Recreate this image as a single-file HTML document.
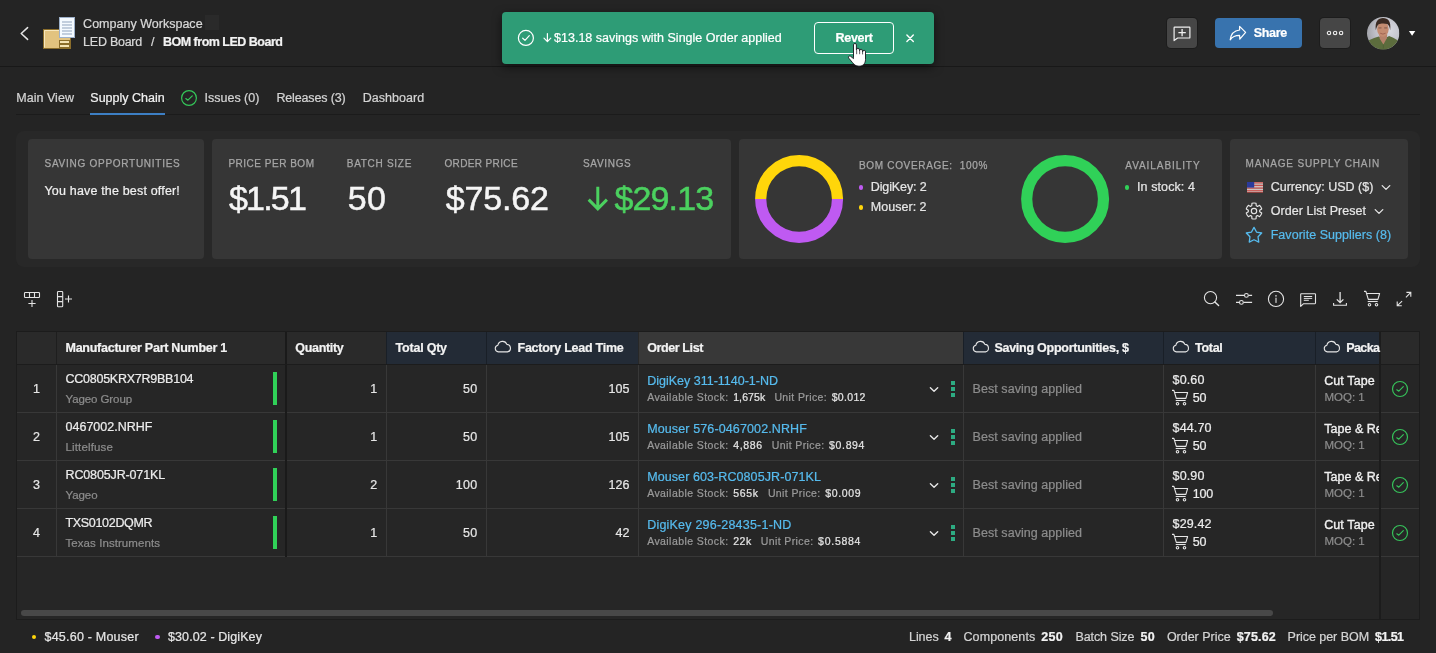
<!DOCTYPE html>
<html lang="en"><head><meta charset="utf-8"><title>BOM from LED Board - Supply Chain</title>
<style>
html,body{margin:0;padding:0;}
body{width:1436px;height:653px;overflow:hidden;position:relative;background:#242424;font-family:"Liberation Sans",sans-serif;color:#e6e6e6;}
.t{position:absolute;white-space:pre;line-height:1;font-weight:400;-webkit-text-stroke:0.22px;}
.b{position:absolute;box-sizing:border-box;}
.i{position:absolute;display:block;overflow:visible;}
#root{position:absolute;left:0;top:0;width:1436px;height:653px;will-change:transform;}
</style></head><body><div id="root">
<header>
<div class="b" style="left:0px;top:66px;width:1436px;height:1px;background:#181818;"></div>
<span class="t" style="top:18px;font-size:12.5px;letter-spacing:0.014px;color:#d9d9d9;left:83.10px;">Company Workspace</span>
<div class="b" style="left:205px;top:15px;width:14px;height:15px;background:#2a2a2a;"></div>
<span class="t" style="top:36px;font-size:12.5px;letter-spacing:-0.250px;color:#d9d9d9;left:83.10px;">LED Board</span>
<span class="t" style="top:36px;font-size:12.5px;letter-spacing:0.000px;color:#d9d9d9;left:151.00px;">/</span>
<span class="t" style="top:36px;font-size:12.5px;letter-spacing:-0.504px;color:#f2f2f2;left:163.00px;font-weight:700;">BOM from LED Board</span>
<div class="b" style="left:1167px;top:18px;width:30px;height:30px;background:#464646;border-radius:4px;box-shadow:0 0 0 1px #1c1c1c;"></div>
<div class="b" style="left:1215px;top:18px;width:87px;height:30px;background:#3873ae;border-radius:4px;"></div>
<span class="t" style="top:27px;font-size:12.5px;letter-spacing:-0.288px;color:#ffffff;left:1253.70px;font-weight:700;">Share</span>
<div class="b" style="left:1320px;top:18px;width:30px;height:30px;background:#464646;border-radius:4px;box-shadow:0 0 0 1px #1c1c1c;"></div>
<svg class="i" style="left:18px;top:25px;" width="12" height="17" viewBox="0 0 12 17" fill="none"><path d="M9.6 2.6 L3.2 8.5 L9.6 14.4" stroke="#e6e6e6" stroke-width="1.5" stroke-linecap="round" stroke-linejoin="round"/></svg>
<svg class="i" style="left:42px;top:16px;" width="34" height="34" viewBox="0 0 34 34" fill="none"><rect x="1.5" y="13.5" width="27" height="19" fill="#e2c37f" stroke="#8a6d2b" stroke-width="1"/><path d="M2.5 31.5 V14.5 H27.5" stroke="#f7e7bd" stroke-width="1" fill="none"/><rect x="17.5" y="24.5" width="10" height="3" fill="#f4e3b4" stroke="#8a6d2b" stroke-width="1"/><rect x="17.5" y="28.5" width="10" height="3" fill="#f4e3b4" stroke="#8a6d2b" stroke-width="1"/><rect x="17.5" y="1.5" width="15" height="20" fill="#f4faff" stroke="#9db0c9" stroke-width="1"/><path d="M20 6H30M20 9H30M20 12H30M20 15H30M20 18H30" stroke="#8fa3bd" stroke-width="1"/></svg>
<svg class="i" style="left:1172px;top:24px;" width="20" height="20" viewBox="0 0 20 20" fill="none"><path d="M2.7 3.2 H17.3 Q17.9 3.2 17.9 3.8 V13.4 Q17.9 14 17.3 14 H5.6 L2.1 16.6 V3.8 Q2.1 3.2 2.7 3.2 Z" stroke="#f0f0f0" stroke-width="1.2" stroke-linejoin="round"/><path d="M6.4 8.6 H13.8 M10.1 5 V12.2" stroke="#f0f0f0" stroke-width="1.3"/></svg>
<svg class="i" style="left:1229px;top:25px;" width="18" height="16" viewBox="0 0 18 16" fill="none"><path d="M10.6 1.4 L16.6 7.4 L10.8 14.2 L10.6 10.4 C6.4 10.4 3.2 11.8 1.2 14.8 C1.8 9.6 5 5.6 10.6 5.0 Z" stroke="#ffffff" stroke-width="1.2" stroke-linejoin="round"/></svg>
<svg class="i" style="left:1325px;top:29px;" width="20" height="8" viewBox="0 0 20 8" fill="none"><circle cx="4" cy="4" r="1.7" stroke="#f0f0f0" stroke-width="1.1"/><circle cx="10.1" cy="4" r="1.7" stroke="#f0f0f0" stroke-width="1.1"/><circle cx="16.1" cy="4" r="1.7" stroke="#f0f0f0" stroke-width="1.1"/></svg>
<svg class="i" style="left:1366.8px;top:16.7px;" width="32.4" height="32.4" viewBox="0 0 32 32" fill="none"><defs><clipPath id="av"><circle cx="16" cy="16" r="16"/></clipPath><radialGradient id="avbg" cx="0.68" cy="0.42" r="0.7"><stop offset="0" stop-color="#d9dae2"/><stop offset="0.6" stop-color="#bfc0c8"/><stop offset="1" stop-color="#a2a3a9"/></radialGradient><filter id="avbl" x="-10%" y="-10%" width="120%" height="120%"><feGaussianBlur stdDeviation="0.45"/></filter></defs><g clip-path="url(#av)"><rect width="32" height="32" fill="url(#avbg)"/><g filter="url(#avbl)"><path d="M-2 27 L2.5 22.8 Q7 20.6 11.6 19.3 L16 22 L21.8 18.8 Q26 20.4 29.8 22.8 L34 27 V34 H-2 Z" fill="#5b6c3d"/><path d="M12 17 H20 L19.6 21 L16.2 27.2 L12.6 21.5 Z" fill="#b6816a"/><ellipse cx="15.7" cy="12" rx="5.7" ry="7.6" fill="#c48b70"/><path d="M8.7 13 C7.6 4.2 11.2 1.1 15.8 1.1 C20.9 1.1 24 4.6 22.9 13 C22.4 10 21.6 8 20 7 C17.4 6 13.4 6.2 11.6 7.2 C10.2 8.4 9.4 10.4 8.7 13 Z" fill="#3b2b24"/><path d="M11.3 10.8 H14.3 M17 10.8 H20" stroke="#7a5244" stroke-width="0.9"/><path d="M13 16 Q15.7 17.8 18.4 16" stroke="#9a5b4c" stroke-width="0.8" fill="none"/><path d="M16.2 27.2 V31" stroke="#4a5930" stroke-width="0.6"/></g></g></svg>
<svg class="i" style="left:1408px;top:30px;" width="8" height="7" viewBox="0 0 8 7" fill="none"><path d="M0.9 1.1 H7.3 L4.1 5.7 Z" fill="#ffffff"/></svg>
</header>
<nav>
<div class="b" style="left:16px;top:114px;width:1404px;height:1px;background:#1b1b1b;"></div>
<div class="b" style="left:90px;top:113px;width:75px;height:2px;background:#3d7fc4;"></div>
<span class="t" style="top:92px;font-size:12.5px;letter-spacing:0.041px;color:#d4d4d4;left:16.20px;">Main View</span>
<span class="t" style="top:92px;font-size:12.5px;letter-spacing:0.004px;color:#f2f2f2;left:90.30px;">Supply Chain</span>
<span class="t" style="top:92px;font-size:12.5px;letter-spacing:0.002px;color:#d4d4d4;left:204.50px;">Issues (0)</span>
<span class="t" style="top:92px;font-size:12.5px;letter-spacing:-0.139px;color:#d4d4d4;left:276.40px;">Releases (3)</span>
<span class="t" style="top:92px;font-size:12.5px;letter-spacing:0.028px;color:#d4d4d4;left:362.80px;">Dashboard</span>
<svg class="i" style="left:180px;top:89px;" width="18" height="18" viewBox="0 0 18 18" fill="none"><circle cx="9" cy="9" r="7.4" stroke="#34c759" stroke-width="1.2"/><path d="M5.8 9.6 L7.9 11.2 L12.3 6.8" stroke="#34c759" stroke-width="1.2" stroke-linecap="round" stroke-linejoin="round"/></svg>
</nav>
<section>
<div class="b" style="left:16px;top:131px;width:1404px;height:136px;background:#282828;border-radius:8px;"></div>
<div class="b" style="left:28px;top:139px;width:176px;height:120px;background:#363636;border-radius:4px;"></div>
<div class="b" style="left:212px;top:139px;width:519px;height:120px;background:#363636;border-radius:4px;"></div>
<div class="b" style="left:739px;top:139px;width:483px;height:120px;background:#363636;border-radius:4px;"></div>
<div class="b" style="left:1230px;top:139px;width:178px;height:120px;background:#363636;border-radius:4px;"></div>
<span class="t" style="top:159px;font-size:10px;letter-spacing:0.734px;color:#a6a6a6;left:44.50px;-webkit-text-stroke:0.25px #a6a6a6;">SAVING OPPORTUNITIES</span>
<span class="t" style="top:185px;font-size:12.5px;letter-spacing:0.173px;color:#f0f0f0;left:44.50px;">You have the best offer!</span>
<span class="t" style="top:159px;font-size:10px;letter-spacing:0.511px;color:#a6a6a6;left:228.40px;-webkit-text-stroke:0.25px #a6a6a6;">PRICE PER BOM</span>
<span class="t" style="top:181px;font-size:34px;letter-spacing:-1.817px;color:#f5f5f5;left:229.00px;-webkit-text-stroke:0.5px #f5f5f5;">$1.51</span>
<span class="t" style="top:159px;font-size:10px;letter-spacing:0.705px;color:#a6a6a6;left:346.80px;-webkit-text-stroke:0.25px #a6a6a6;">BATCH SIZE</span>
<span class="t" style="top:181px;font-size:34px;letter-spacing:0.341px;color:#f5f5f5;left:347.80px;-webkit-text-stroke:0.5px #f5f5f5;">50</span>
<span class="t" style="top:159px;font-size:10px;letter-spacing:0.377px;color:#a6a6a6;left:444.40px;-webkit-text-stroke:0.25px #a6a6a6;">ORDER PRICE</span>
<span class="t" style="top:181px;font-size:34px;letter-spacing:-0.165px;color:#f5f5f5;left:445.80px;-webkit-text-stroke:0.5px #f5f5f5;">$75.62</span>
<span class="t" style="top:159px;font-size:10px;letter-spacing:0.698px;color:#a6a6a6;left:582.90px;-webkit-text-stroke:0.25px #a6a6a6;">SAVINGS</span>
<span class="t" style="top:181px;font-size:34px;letter-spacing:-0.882px;color:#4bd15f;left:614.50px;-webkit-text-stroke:0.5px #4bd15f;">$29.13</span>
<span class="t" style="top:161px;font-size:10px;letter-spacing:0.676px;color:#a6a6a6;left:859.00px;-webkit-text-stroke:0.25px #a6a6a6;">BOM COVERAGE:  100%</span>
<span class="t" style="top:181px;font-size:12.5px;letter-spacing:-0.117px;color:#e6e6e6;left:870.80px;">DigiKey: 2</span>
<span class="t" style="top:201px;font-size:12.5px;letter-spacing:0.025px;color:#e6e6e6;left:870.80px;">Mouser: 2</span>
<span class="t" style="top:161px;font-size:10px;letter-spacing:0.925px;color:#a6a6a6;left:1125.30px;-webkit-text-stroke:0.25px #a6a6a6;">AVAILABILITY</span>
<span class="t" style="top:181px;font-size:12.5px;letter-spacing:0.094px;color:#e6e6e6;left:1137.00px;">In stock: 4</span>
<span class="t" style="top:159px;font-size:10px;letter-spacing:0.839px;color:#a6a6a6;left:1245.50px;-webkit-text-stroke:0.25px #a6a6a6;">MANAGE SUPPLY CHAIN</span>
<span class="t" style="top:181px;font-size:12.5px;letter-spacing:-0.012px;color:#e6e6e6;left:1270.70px;">Currency: USD ($)</span>
<span class="t" style="top:205px;font-size:12.5px;letter-spacing:0.054px;color:#e6e6e6;left:1270.70px;">Order List Preset</span>
<span class="t" style="top:229px;font-size:12.5px;letter-spacing:0.046px;color:#56bbee;left:1270.70px;">Favorite Suppliers (8)</span>
<svg class="i" style="left:586px;top:185px;" width="24" height="27" viewBox="0 0 24 27" fill="none"><path d="M11.8 1.8 V24.2 M2.7 14.6 L11.8 23.8 L20.9 14.6" stroke="#4bd15f" stroke-width="3" stroke-linecap="butt" stroke-linejoin="miter"/></svg>
<svg class="i" style="left:754px;top:154px;" width="90" height="90" viewBox="0 0 90 90" fill="none"><path d="M6.7 45 A38.4 38.4 0 0 1 83.5 45" stroke="#ffd60a" stroke-width="11.2"/><path d="M6.7 45 A38.4 38.4 0 0 0 83.5 45" stroke="#bf5af2" stroke-width="11.2"/></svg>
<svg class="i" style="left:1020px;top:154px;" width="90" height="90" viewBox="0 0 90 90" fill="none"><circle cx="45.1" cy="45" r="38.4" stroke="#30d158" stroke-width="11.2"/></svg>
<div class="b" style="left:858.8px;top:185px;width:4.5px;height:4.5px;background:#bf5af2;border-radius:50%;"></div>
<div class="b" style="left:858.8px;top:205px;width:4.5px;height:4.5px;background:#ffd60a;border-radius:50%;"></div>
<div class="b" style="left:1124.8px;top:185px;width:4.5px;height:4.5px;background:#30d158;border-radius:50%;"></div>
<svg class="i" style="left:1247px;top:181.7px;" width="16" height="10.5" viewBox="0 0 16 10.5" fill="none"><rect x="0" y="0.00" width="16" height="0.81" fill="#e4504a"/><rect x="0" y="0.81" width="16" height="0.81" fill="#f3f3f3"/><rect x="0" y="1.62" width="16" height="0.81" fill="#e4504a"/><rect x="0" y="2.42" width="16" height="0.81" fill="#f3f3f3"/><rect x="0" y="3.23" width="16" height="0.81" fill="#e4504a"/><rect x="0" y="4.04" width="16" height="0.81" fill="#f3f3f3"/><rect x="0" y="4.85" width="16" height="0.81" fill="#e4504a"/><rect x="0" y="5.66" width="16" height="0.81" fill="#f3f3f3"/><rect x="0" y="6.46" width="16" height="0.81" fill="#e4504a"/><rect x="0" y="7.27" width="16" height="0.81" fill="#f3f3f3"/><rect x="0" y="8.08" width="16" height="0.81" fill="#e4504a"/><rect x="0" y="8.89" width="16" height="0.81" fill="#f3f3f3"/><rect x="0" y="9.70" width="16" height="0.81" fill="#e4504a"/><rect x="0" y="0" width="7.2" height="5.6" fill="#2a3a9c"/></svg>
<svg class="i" style="left:1381px;top:183.5px;" width="10" height="7" viewBox="0 0 10 7" fill="none"><path d="M1.2 1.6 L5 5.4 L8.8 1.6" stroke="#e6e6e6" stroke-width="1.3" stroke-linecap="round" stroke-linejoin="round"/></svg>
<svg class="i" style="left:1374.2px;top:207.5px;" width="10" height="7" viewBox="0 0 10 7" fill="none"><path d="M1.2 1.6 L5 5.4 L8.8 1.6" stroke="#e6e6e6" stroke-width="1.3" stroke-linecap="round" stroke-linejoin="round"/></svg>
<svg class="i" style="left:1245px;top:201.9px;" width="18" height="18" viewBox="0 0 18 18" fill="none"><path d="M6.78 3.75 L6.94 1.27 A8.0 8.0 0 0 1 11.06 1.27 L11.22 3.75 A5.7 5.7 0 0 1 12.44 4.45 L14.67 3.35 A8.0 8.0 0 0 1 16.72 6.92 L14.66 8.30 A5.7 5.7 0 0 1 14.66 9.70 L16.72 11.08 A8.0 8.0 0 0 1 14.67 14.65 L12.44 13.55 A5.7 5.7 0 0 1 11.22 14.25 L11.06 16.73 A8.0 8.0 0 0 1 6.94 16.73 L6.78 14.25 A5.7 5.7 0 0 1 5.56 13.55 L3.33 14.65 A8.0 8.0 0 0 1 1.28 11.08 L3.34 9.70 A5.7 5.7 0 0 1 3.34 8.30 L1.28 6.92 A8.0 8.0 0 0 1 3.33 3.35 L5.56 4.45 A5.7 5.7 0 0 1 6.78 3.75 Z" stroke="#e6e6e6" stroke-width="1.15" stroke-linejoin="round"/><circle cx="9" cy="9" r="2.7" stroke="#e6e6e6" stroke-width="1.15"/></svg>
<svg class="i" style="left:1245px;top:226px;" width="18" height="18" viewBox="0 0 18 18" fill="none"><path d="M9.00 1.40 L11.50 6.06 L16.70 7.00 L13.04 10.81 L13.76 16.05 L9.00 13.75 L4.24 16.05 L4.96 10.81 L1.30 7.00 L6.50 6.06 Z" stroke="#56bbee" stroke-width="1.3" stroke-linejoin="round"/></svg>
</section>
<div>
<svg class="i" style="left:22px;top:290px;" width="20" height="20" viewBox="0 0 20 20" fill="none"><rect x="2.5" y="2.5" width="15" height="5" rx="0.8" stroke="#e4e4e4" stroke-width="1.1"/><path d="M7.5 2.5 V7.5 M12.5 2.5 V7.5" stroke="#e4e4e4" stroke-width="1.1"/><path d="M6.4 13.5 H13.6 M10 10 V17" stroke="#e4e4e4" stroke-width="1.1"/></svg>
<svg class="i" style="left:55px;top:289px;" width="20" height="20" viewBox="0 0 20 20" fill="none"><rect x="2.5" y="2.5" width="5.2" height="15.2" rx="0.8" stroke="#e4e4e4" stroke-width="1.1"/><path d="M2.5 7.6 H7.7 M2.5 12.6 H7.7" stroke="#e4e4e4" stroke-width="1.1"/><path d="M10 10 H17 M13.5 6.4 V13.6" stroke="#e4e4e4" stroke-width="1.1"/></svg>
<svg class="i" style="left:1202px;top:289px;" width="18" height="18" viewBox="0 0 18 18" fill="none"><circle cx="8.5" cy="8.6" r="6.1" stroke="#e4e4e4" stroke-width="1.1"/><path d="M12.9 12.9 L16.6 16.5" stroke="#e4e4e4" stroke-width="1.4" stroke-linecap="round"/></svg>
<svg class="i" style="left:1235px;top:291px;" width="18" height="16" viewBox="0 0 18 16" fill="none"><path d="M1 4.4 H9.3 M13.6 4.4 H17.1 M1 11.4 H4.3 M8.6 11.4 H17.1" stroke="#e4e4e4" stroke-width="1.1"/><circle cx="11.4" cy="4.4" r="1.9" stroke="#e4e4e4" stroke-width="1.1"/><circle cx="6.4" cy="11.4" r="1.9" stroke="#e4e4e4" stroke-width="1.1"/></svg>
<svg class="i" style="left:1267px;top:290px;" width="18" height="18" viewBox="0 0 18 18" fill="none"><circle cx="9" cy="8.9" r="7.6" stroke="#e4e4e4" stroke-width="1.1"/><rect x="8.3" y="7.7" width="1.4" height="5.2" fill="#bdbdbd"/><circle cx="9" cy="5.8" r="0.85" fill="#cfcfcf"/></svg>
<svg class="i" style="left:1299px;top:292px;" width="18" height="16" viewBox="0 0 18 16" fill="none"><path d="M2.2 1.7 H15.9 Q16.5 1.7 16.5 2.3 V11.1 Q16.5 11.7 15.9 11.7 H4.6 L1.7 14.4 V2.3 Q1.7 1.7 2.2 1.7 Z" stroke="#e4e4e4" stroke-width="1.1" stroke-linejoin="round"/><path d="M4.8 4.5 H13.2 M4.8 6.4 H13.2 M4.8 8.3 H9.8" stroke="#e4e4e4" stroke-width="1"/></svg>
<svg class="i" style="left:1331px;top:290px;" width="18" height="18" viewBox="0 0 18 18" fill="none"><path d="M9.1 2 V12.4 M5.8 9.4 L9.1 12.7 L12.4 9.4" stroke="#e4e4e4" stroke-width="1.3"/><path d="M2.6 12.9 V15.3 H15.4 V12.9" stroke="#e4e4e4" stroke-width="1.1"/></svg>
<svg class="i" style="left:1363px;top:289px;" width="18" height="18" viewBox="0 0 18 18" fill="none"><path d="M1 2.4 H2.9 L5.3 10.4 H14.9 L16.6 4.5 H3.6" stroke="#e4e4e4" stroke-width="1.1" stroke-linejoin="round"/><path d="M4.7 12.5 H14.7" stroke="#e4e4e4" stroke-width="1.1"/><circle cx="6.5" cy="15.7" r="1.25" stroke="#e4e4e4" stroke-width="1.1"/><circle cx="13.5" cy="15.7" r="1.25" stroke="#e4e4e4" stroke-width="1.1"/></svg>
<svg class="i" style="left:1395px;top:290px;" width="18" height="18" viewBox="0 0 18 18" fill="none"><path d="M10.9 7.3 L15.6 2.6 M11.4 2.4 H15.8 V6.8" stroke="#e4e4e4" stroke-width="1.1"/><path d="M7.1 11.1 L2.4 15.6 M2.2 11.4 V15.7 H6.8" stroke="#e4e4e4" stroke-width="1.1"/></svg>
</div>
<main>
<div class="b" style="left:16px;top:331px;width:1404px;height:289px;background:#262626;"></div>
<div class="b" style="left:16px;top:331px;width:370px;height:33px;background:#2a2a2a;"></div>
<div class="b" style="left:386px;top:331px;width:252px;height:33px;background:#232b36;"></div>
<div class="b" style="left:638px;top:331px;width:325px;height:33px;background:#383838;"></div>
<div class="b" style="left:963px;top:331px;width:416px;height:33px;background:#232b36;"></div>
<div class="b" style="left:1379px;top:331px;width:41px;height:33px;background:#2a2a2a;"></div>
<div class="b" style="left:17px;top:412px;width:1402px;height:1px;background:#383838;"></div>
<div class="b" style="left:17px;top:460px;width:1402px;height:1px;background:#383838;"></div>
<div class="b" style="left:17px;top:508px;width:1402px;height:1px;background:#383838;"></div>
<div class="b" style="left:17px;top:556px;width:1402px;height:1px;background:#383838;"></div>
<div class="b" style="left:56px;top:365px;width:1px;height:192px;background:#383838;"></div>
<div class="b" style="left:386px;top:365px;width:1px;height:192px;background:#383838;"></div>
<div class="b" style="left:486px;top:365px;width:1px;height:192px;background:#383838;"></div>
<div class="b" style="left:638px;top:365px;width:1px;height:192px;background:#383838;"></div>
<div class="b" style="left:963px;top:365px;width:1px;height:192px;background:#383838;"></div>
<div class="b" style="left:1163px;top:365px;width:1px;height:192px;background:#383838;"></div>
<div class="b" style="left:1315px;top:365px;width:1px;height:192px;background:#383838;"></div>
<div class="b" style="left:56px;top:332px;width:1px;height:32px;background:rgba(0,0,0,0.28);"></div>
<div class="b" style="left:386px;top:332px;width:1px;height:32px;background:rgba(0,0,0,0.28);"></div>
<div class="b" style="left:486px;top:332px;width:1px;height:32px;background:rgba(0,0,0,0.28);"></div>
<div class="b" style="left:638px;top:332px;width:1px;height:32px;background:rgba(0,0,0,0.28);"></div>
<div class="b" style="left:963px;top:332px;width:1px;height:32px;background:rgba(0,0,0,0.28);"></div>
<div class="b" style="left:1163px;top:332px;width:1px;height:32px;background:rgba(0,0,0,0.28);"></div>
<div class="b" style="left:1315px;top:332px;width:1px;height:32px;background:rgba(0,0,0,0.28);"></div>
<div class="b" style="left:285px;top:331px;width:2px;height:226px;background:#1a1a1a;"></div>
<div class="b" style="left:1379px;top:331px;width:2px;height:289px;background:#1c1c1c;"></div>
<div class="b" style="left:16px;top:331px;width:1404px;height:1px;background:#1c1c1c;"></div>
<div class="b" style="left:16px;top:364px;width:1404px;height:1px;background:#1c1c1c;"></div>
<div class="b" style="left:16px;top:619px;width:1404px;height:1px;background:#1c1c1c;"></div>
<div class="b" style="left:16px;top:331px;width:1px;height:289px;background:#1c1c1c;"></div>
<div class="b" style="left:1419px;top:331px;width:1px;height:289px;background:#1c1c1c;"></div>
<div class="b" style="left:21px;top:610px;width:1252px;height:6px;background:#484848;border-radius:3px;"></div>
<span class="t" style="top:342px;font-size:12.5px;letter-spacing:-0.254px;color:#f2f2f2;left:65.50px;font-weight:700;">Manufacturer Part Number 1</span>
<span class="t" style="top:342px;font-size:12.5px;letter-spacing:-0.312px;color:#f2f2f2;left:295.30px;font-weight:700;">Quantity</span>
<span class="t" style="top:342px;font-size:12.5px;letter-spacing:-0.227px;color:#f2f2f2;left:395.60px;font-weight:700;">Total Qty</span>
<span class="t" style="top:342px;font-size:12.5px;letter-spacing:-0.248px;color:#f2f2f2;left:517.50px;font-weight:700;">Factory Lead Time</span>
<span class="t" style="top:342px;font-size:12.5px;letter-spacing:-0.394px;color:#f2f2f2;left:647.20px;font-weight:700;">Order List</span>
<span class="t" style="top:342px;font-size:12.5px;letter-spacing:-0.256px;color:#f2f2f2;left:994.40px;font-weight:700;">Saving Opportunities, $</span>
<span class="t" style="top:342px;font-size:12.5px;letter-spacing:-0.286px;color:#f2f2f2;left:1195.00px;font-weight:700;">Total</span>
<span class="t" style="top:342px;font-size:12.5px;letter-spacing:-0.569px;color:#f2f2f2;left:1346.20px;font-weight:700;">Packa</span>
<span class="t" style="top:383px;font-size:12.5px;letter-spacing:0.000px;color:#e6e6e6;left:32.92px;">1</span>
<span class="t" style="top:373px;font-size:12.5px;letter-spacing:-0.249px;color:#ececec;left:65.50px;">CC0805KRX7R9BB104</span>
<span class="t" style="top:394px;font-size:11.5px;letter-spacing:-0.096px;color:#8c8c8c;left:65.50px;">Yageo Group</span>
<div class="b" style="left:273px;top:372px;width:4px;height:33px;background:#30d158;"></div>
<span class="t" style="top:383px;font-size:12.5px;letter-spacing:-0.000px;color:#e6e6e6;left:370.35px;">1</span>
<span class="t" style="top:383px;font-size:12.5px;letter-spacing:0.278px;color:#e6e6e6;left:463.04px;">50</span>
<span class="t" style="top:383px;font-size:12.5px;letter-spacing:0.070px;color:#e6e6e6;left:608.44px;">105</span>
<span class="t" style="top:375px;font-size:12.5px;letter-spacing:-0.002px;color:#56bbee;left:647.20px;">DigiKey 311-1140-1-ND</span>
<span class="t" style="top:392px;font-size:10.5px;letter-spacing:0.424px;color:#9a9a9a;left:647.20px;">Available Stock:</span>
<span class="t" style="top:392px;font-size:10.5px;letter-spacing:0.096px;color:#e4e4e4;left:733.20px;">1,675k</span>
<span class="t" style="top:392px;font-size:10.5px;letter-spacing:0.388px;color:#9a9a9a;left:774.40px;">Unit Price:</span>
<span class="t" style="top:392px;font-size:10.5px;letter-spacing:0.331px;color:#e4e4e4;left:831.70px;">$0.012</span>
<span class="t" style="top:383px;font-size:12.5px;letter-spacing:0.052px;color:#8c8c8c;left:972.60px;">Best saving applied</span>
<span class="t" style="top:374px;font-size:12.5px;letter-spacing:0.125px;color:#ececec;left:1172.60px;">$0.60</span>
<span class="t" style="top:392px;font-size:12.5px;letter-spacing:-0.139px;color:#ececec;left:1192.70px;">50</span>
<span class="t" style="top:375px;font-size:12.5px;letter-spacing:0.099px;color:#f0f0f0;left:1324.20px;width:54.8px;overflow:hidden;-webkit-text-stroke:0.35px #f0f0f0;">Cut Tape</span>
<span class="t" style="top:392px;font-size:11.5px;letter-spacing:-0.009px;color:#8c8c8c;left:1324.50px;">MOQ: 1</span>
<span class="t" style="top:431px;font-size:12.5px;letter-spacing:0.000px;color:#e6e6e6;left:32.92px;">2</span>
<span class="t" style="top:421px;font-size:12.5px;letter-spacing:0.012px;color:#ececec;left:65.50px;">0467002.NRHF</span>
<span class="t" style="top:442px;font-size:11.5px;letter-spacing:0.147px;color:#8c8c8c;left:65.50px;">Littelfuse</span>
<div class="b" style="left:273px;top:420px;width:4px;height:33px;background:#30d158;"></div>
<span class="t" style="top:431px;font-size:12.5px;letter-spacing:-0.000px;color:#e6e6e6;left:370.35px;">1</span>
<span class="t" style="top:431px;font-size:12.5px;letter-spacing:0.278px;color:#e6e6e6;left:463.04px;">50</span>
<span class="t" style="top:431px;font-size:12.5px;letter-spacing:0.070px;color:#e6e6e6;left:608.44px;">105</span>
<span class="t" style="top:423px;font-size:12.5px;letter-spacing:0.121px;color:#56bbee;left:647.20px;">Mouser 576-0467002.NRHF</span>
<span class="t" style="top:440px;font-size:10.5px;letter-spacing:0.424px;color:#9a9a9a;left:647.20px;">Available Stock:</span>
<span class="t" style="top:440px;font-size:10.5px;letter-spacing:0.645px;color:#e4e4e4;left:733.20px;">4,886</span>
<span class="t" style="top:440px;font-size:10.5px;letter-spacing:0.388px;color:#9a9a9a;left:771.80px;">Unit Price:</span>
<span class="t" style="top:440px;font-size:10.5px;letter-spacing:0.647px;color:#e4e4e4;left:829.10px;">$0.894</span>
<span class="t" style="top:431px;font-size:12.5px;letter-spacing:0.052px;color:#8c8c8c;left:972.60px;">Best saving applied</span>
<span class="t" style="top:422px;font-size:12.5px;letter-spacing:0.127px;color:#ececec;left:1172.60px;">$44.70</span>
<span class="t" style="top:440px;font-size:12.5px;letter-spacing:-0.139px;color:#ececec;left:1192.70px;">50</span>
<span class="t" style="top:423px;font-size:12.5px;letter-spacing:0.031px;color:#f0f0f0;left:1324.20px;width:54.8px;overflow:hidden;-webkit-text-stroke:0.35px #f0f0f0;">Tape &amp; Reel</span>
<span class="t" style="top:440px;font-size:11.5px;letter-spacing:-0.009px;color:#8c8c8c;left:1324.50px;">MOQ: 1</span>
<span class="t" style="top:479px;font-size:12.5px;letter-spacing:0.000px;color:#e6e6e6;left:32.92px;">3</span>
<span class="t" style="top:469px;font-size:12.5px;letter-spacing:-0.139px;color:#ececec;left:65.50px;">RC0805JR-071KL</span>
<span class="t" style="top:490px;font-size:11.5px;letter-spacing:-0.080px;color:#8c8c8c;left:65.50px;">Yageo</span>
<div class="b" style="left:273px;top:468px;width:4px;height:33px;background:#30d158;"></div>
<span class="t" style="top:479px;font-size:12.5px;letter-spacing:-0.000px;color:#e6e6e6;left:370.35px;">2</span>
<span class="t" style="top:479px;font-size:12.5px;letter-spacing:0.278px;color:#e6e6e6;left:455.81px;">100</span>
<span class="t" style="top:479px;font-size:12.5px;letter-spacing:0.070px;color:#e6e6e6;left:608.44px;">126</span>
<span class="t" style="top:471px;font-size:12.5px;letter-spacing:0.087px;color:#56bbee;left:647.20px;">Mouser 603-RC0805JR-071KL</span>
<span class="t" style="top:488px;font-size:10.5px;letter-spacing:0.424px;color:#9a9a9a;left:647.20px;">Available Stock:</span>
<span class="t" style="top:488px;font-size:10.5px;letter-spacing:0.708px;color:#e4e4e4;left:733.20px;">565k</span>
<span class="t" style="top:488px;font-size:10.5px;letter-spacing:0.388px;color:#9a9a9a;left:767.90px;">Unit Price:</span>
<span class="t" style="top:488px;font-size:10.5px;letter-spacing:0.664px;color:#e4e4e4;left:825.20px;">$0.009</span>
<span class="t" style="top:479px;font-size:12.5px;letter-spacing:0.052px;color:#8c8c8c;left:972.60px;">Best saving applied</span>
<span class="t" style="top:470px;font-size:12.5px;letter-spacing:0.125px;color:#ececec;left:1172.60px;">$0.90</span>
<span class="t" style="top:488px;font-size:12.5px;letter-spacing:-0.139px;color:#ececec;left:1192.70px;">100</span>
<span class="t" style="top:471px;font-size:12.5px;letter-spacing:0.031px;color:#f0f0f0;left:1324.20px;width:54.8px;overflow:hidden;-webkit-text-stroke:0.35px #f0f0f0;">Tape &amp; Reel</span>
<span class="t" style="top:488px;font-size:11.5px;letter-spacing:-0.009px;color:#8c8c8c;left:1324.50px;">MOQ: 1</span>
<span class="t" style="top:527px;font-size:12.5px;letter-spacing:0.000px;color:#e6e6e6;left:32.92px;">4</span>
<span class="t" style="top:517px;font-size:12.5px;letter-spacing:-0.319px;color:#ececec;left:65.50px;">TXS0102DQMR</span>
<span class="t" style="top:538px;font-size:11.5px;letter-spacing:0.070px;color:#8c8c8c;left:65.50px;">Texas Instruments</span>
<div class="b" style="left:273px;top:516px;width:4px;height:33px;background:#30d158;"></div>
<span class="t" style="top:527px;font-size:12.5px;letter-spacing:-0.000px;color:#e6e6e6;left:370.35px;">1</span>
<span class="t" style="top:527px;font-size:12.5px;letter-spacing:0.278px;color:#e6e6e6;left:463.04px;">50</span>
<span class="t" style="top:527px;font-size:12.5px;letter-spacing:0.070px;color:#e6e6e6;left:615.46px;">42</span>
<span class="t" style="top:519px;font-size:12.5px;letter-spacing:0.211px;color:#56bbee;left:647.20px;">DigiKey 296-28435-1-ND</span>
<span class="t" style="top:536px;font-size:10.5px;letter-spacing:0.424px;color:#9a9a9a;left:647.20px;">Available Stock:</span>
<span class="t" style="top:536px;font-size:10.5px;letter-spacing:0.524px;color:#e4e4e4;left:733.20px;">22k</span>
<span class="t" style="top:536px;font-size:10.5px;letter-spacing:0.388px;color:#9a9a9a;left:760.80px;">Unit Price:</span>
<span class="t" style="top:536px;font-size:10.5px;letter-spacing:0.735px;color:#e4e4e4;left:818.10px;">$0.5884</span>
<span class="t" style="top:527px;font-size:12.5px;letter-spacing:0.052px;color:#8c8c8c;left:972.60px;">Best saving applied</span>
<span class="t" style="top:518px;font-size:12.5px;letter-spacing:0.127px;color:#ececec;left:1172.60px;">$29.42</span>
<span class="t" style="top:536px;font-size:12.5px;letter-spacing:-0.139px;color:#ececec;left:1192.70px;">50</span>
<span class="t" style="top:519px;font-size:12.5px;letter-spacing:0.099px;color:#f0f0f0;left:1324.20px;width:54.8px;overflow:hidden;-webkit-text-stroke:0.35px #f0f0f0;">Cut Tape</span>
<span class="t" style="top:536px;font-size:11.5px;letter-spacing:-0.009px;color:#8c8c8c;left:1324.50px;">MOQ: 1</span>
<svg class="i" style="left:494px;top:340px;" width="18" height="13" viewBox="0 0 18 13" fill="none"><path d="M4.4 11.9 A3.4 3.4 0 0 1 3.9 5.2 A4.7 4.7 0 0 1 12.9 4.4 A3.8 3.8 0 0 1 13.5 11.9 Z" stroke="#e6e6e6" stroke-width="1.1" stroke-linejoin="round"/></svg>
<svg class="i" style="left:971.5px;top:340px;" width="18" height="13" viewBox="0 0 18 13" fill="none"><path d="M4.4 11.9 A3.4 3.4 0 0 1 3.9 5.2 A4.7 4.7 0 0 1 12.9 4.4 A3.8 3.8 0 0 1 13.5 11.9 Z" stroke="#e6e6e6" stroke-width="1.1" stroke-linejoin="round"/></svg>
<svg class="i" style="left:1171.5px;top:340px;" width="18" height="13" viewBox="0 0 18 13" fill="none"><path d="M4.4 11.9 A3.4 3.4 0 0 1 3.9 5.2 A4.7 4.7 0 0 1 12.9 4.4 A3.8 3.8 0 0 1 13.5 11.9 Z" stroke="#e6e6e6" stroke-width="1.1" stroke-linejoin="round"/></svg>
<svg class="i" style="left:1323.3px;top:340px;" width="18" height="13" viewBox="0 0 18 13" fill="none"><path d="M4.4 11.9 A3.4 3.4 0 0 1 3.9 5.2 A4.7 4.7 0 0 1 12.9 4.4 A3.8 3.8 0 0 1 13.5 11.9 Z" stroke="#e6e6e6" stroke-width="1.1" stroke-linejoin="round"/></svg>
<svg class="i" style="left:929px;top:385.5px;" width="10" height="7" viewBox="0 0 10 7" fill="none"><path d="M1.4 1.7 L5.05 5.2 L8.7 1.7" stroke="#e6e6e6" stroke-width="1.4" stroke-linecap="round" stroke-linejoin="round"/></svg>
<div class="b" style="left:951px;top:381px;width:4px;height:4px;background:#2dab82;"></div>
<div class="b" style="left:951px;top:387px;width:4px;height:4px;background:#2dab82;"></div>
<div class="b" style="left:951px;top:393px;width:4px;height:4px;background:#2dab82;"></div>
<svg class="i" style="left:1171px;top:388px;" width="18" height="18" viewBox="0 0 18 18" fill="none"><path d="M1 2.4 H2.9 L5.3 10.4 H14.9 L16.6 4.5 H3.6" stroke="#e6e6e6" stroke-width="1.1" stroke-linejoin="round"/><path d="M4.7 12.5 H14.7" stroke="#e6e6e6" stroke-width="1.1"/><circle cx="6.5" cy="15.7" r="1.25" stroke="#e6e6e6" stroke-width="1.1"/><circle cx="13.5" cy="15.7" r="1.25" stroke="#e6e6e6" stroke-width="1.1"/></svg>
<svg class="i" style="left:1391px;top:380px;" width="18" height="18" viewBox="0 0 18 18" fill="none"><circle cx="9" cy="9" r="7.5" stroke="#36c25a" stroke-width="1.2"/><path d="M5.8 9.8 L7.8 11.2 L12.3 6.7" stroke="#36c25a" stroke-width="1.2" stroke-linecap="round" stroke-linejoin="round"/></svg>
<svg class="i" style="left:929px;top:433.5px;" width="10" height="7" viewBox="0 0 10 7" fill="none"><path d="M1.4 1.7 L5.05 5.2 L8.7 1.7" stroke="#e6e6e6" stroke-width="1.4" stroke-linecap="round" stroke-linejoin="round"/></svg>
<div class="b" style="left:951px;top:429px;width:4px;height:4px;background:#2dab82;"></div>
<div class="b" style="left:951px;top:435px;width:4px;height:4px;background:#2dab82;"></div>
<div class="b" style="left:951px;top:441px;width:4px;height:4px;background:#2dab82;"></div>
<svg class="i" style="left:1171px;top:436px;" width="18" height="18" viewBox="0 0 18 18" fill="none"><path d="M1 2.4 H2.9 L5.3 10.4 H14.9 L16.6 4.5 H3.6" stroke="#e6e6e6" stroke-width="1.1" stroke-linejoin="round"/><path d="M4.7 12.5 H14.7" stroke="#e6e6e6" stroke-width="1.1"/><circle cx="6.5" cy="15.7" r="1.25" stroke="#e6e6e6" stroke-width="1.1"/><circle cx="13.5" cy="15.7" r="1.25" stroke="#e6e6e6" stroke-width="1.1"/></svg>
<svg class="i" style="left:1391px;top:428px;" width="18" height="18" viewBox="0 0 18 18" fill="none"><circle cx="9" cy="9" r="7.5" stroke="#36c25a" stroke-width="1.2"/><path d="M5.8 9.8 L7.8 11.2 L12.3 6.7" stroke="#36c25a" stroke-width="1.2" stroke-linecap="round" stroke-linejoin="round"/></svg>
<svg class="i" style="left:929px;top:481.5px;" width="10" height="7" viewBox="0 0 10 7" fill="none"><path d="M1.4 1.7 L5.05 5.2 L8.7 1.7" stroke="#e6e6e6" stroke-width="1.4" stroke-linecap="round" stroke-linejoin="round"/></svg>
<div class="b" style="left:951px;top:477px;width:4px;height:4px;background:#2dab82;"></div>
<div class="b" style="left:951px;top:483px;width:4px;height:4px;background:#2dab82;"></div>
<div class="b" style="left:951px;top:489px;width:4px;height:4px;background:#2dab82;"></div>
<svg class="i" style="left:1171px;top:484px;" width="18" height="18" viewBox="0 0 18 18" fill="none"><path d="M1 2.4 H2.9 L5.3 10.4 H14.9 L16.6 4.5 H3.6" stroke="#e6e6e6" stroke-width="1.1" stroke-linejoin="round"/><path d="M4.7 12.5 H14.7" stroke="#e6e6e6" stroke-width="1.1"/><circle cx="6.5" cy="15.7" r="1.25" stroke="#e6e6e6" stroke-width="1.1"/><circle cx="13.5" cy="15.7" r="1.25" stroke="#e6e6e6" stroke-width="1.1"/></svg>
<svg class="i" style="left:1391px;top:476px;" width="18" height="18" viewBox="0 0 18 18" fill="none"><circle cx="9" cy="9" r="7.5" stroke="#36c25a" stroke-width="1.2"/><path d="M5.8 9.8 L7.8 11.2 L12.3 6.7" stroke="#36c25a" stroke-width="1.2" stroke-linecap="round" stroke-linejoin="round"/></svg>
<svg class="i" style="left:929px;top:529.5px;" width="10" height="7" viewBox="0 0 10 7" fill="none"><path d="M1.4 1.7 L5.05 5.2 L8.7 1.7" stroke="#e6e6e6" stroke-width="1.4" stroke-linecap="round" stroke-linejoin="round"/></svg>
<div class="b" style="left:951px;top:525px;width:4px;height:4px;background:#2dab82;"></div>
<div class="b" style="left:951px;top:531px;width:4px;height:4px;background:#2dab82;"></div>
<div class="b" style="left:951px;top:537px;width:4px;height:4px;background:#2dab82;"></div>
<svg class="i" style="left:1171px;top:532px;" width="18" height="18" viewBox="0 0 18 18" fill="none"><path d="M1 2.4 H2.9 L5.3 10.4 H14.9 L16.6 4.5 H3.6" stroke="#e6e6e6" stroke-width="1.1" stroke-linejoin="round"/><path d="M4.7 12.5 H14.7" stroke="#e6e6e6" stroke-width="1.1"/><circle cx="6.5" cy="15.7" r="1.25" stroke="#e6e6e6" stroke-width="1.1"/><circle cx="13.5" cy="15.7" r="1.25" stroke="#e6e6e6" stroke-width="1.1"/></svg>
<svg class="i" style="left:1391px;top:524px;" width="18" height="18" viewBox="0 0 18 18" fill="none"><circle cx="9" cy="9" r="7.5" stroke="#36c25a" stroke-width="1.2"/><path d="M5.8 9.8 L7.8 11.2 L12.3 6.7" stroke="#36c25a" stroke-width="1.2" stroke-linecap="round" stroke-linejoin="round"/></svg>
</main>
<footer>
<span class="t" style="top:631px;font-size:12.5px;letter-spacing:0.219px;color:#e6e6e6;left:44.50px;">$45.60 - Mouser</span>
<span class="t" style="top:631px;font-size:12.5px;letter-spacing:0.099px;color:#e6e6e6;left:168.00px;">$30.02 - DigiKey</span>
<div class="b" style="left:31.7px;top:634.7px;width:4.599999999999998px;height:4.599999999999909px;background:#ffd60a;border-radius:50%;"></div>
<div class="b" style="left:155.2px;top:634.7px;width:4.600000000000023px;height:4.599999999999909px;background:#bf5af2;border-radius:50%;"></div>
<span class="t" style="top:631px;font-size:12.5px;letter-spacing:-0.057px;color:#d4d4d4;left:909.00px;">Lines</span>
<span class="t" style="top:631px;font-size:12.5px;letter-spacing:-0.052px;color:#f2f2f2;left:944.60px;font-weight:700;">4</span>
<span class="t" style="top:631px;font-size:12.5px;letter-spacing:0.093px;color:#d4d4d4;left:963.50px;">Components</span>
<span class="t" style="top:631px;font-size:12.5px;letter-spacing:0.281px;color:#f2f2f2;left:1041.30px;font-weight:700;">250</span>
<span class="t" style="top:631px;font-size:12.5px;letter-spacing:-0.075px;color:#d4d4d4;left:1075.40px;">Batch Size</span>
<span class="t" style="top:631px;font-size:12.5px;letter-spacing:0.448px;color:#f2f2f2;left:1140.40px;font-weight:700;">50</span>
<span class="t" style="top:631px;font-size:12.5px;letter-spacing:-0.019px;color:#d4d4d4;left:1166.90px;">Order Price</span>
<span class="t" style="top:631px;font-size:12.5px;letter-spacing:0.178px;color:#f2f2f2;left:1236.70px;font-weight:700;">$75.62</span>
<span class="t" style="top:631px;font-size:12.5px;letter-spacing:-0.043px;color:#d4d4d4;left:1287.60px;">Price per BOM</span>
<span class="t" style="top:631px;font-size:12.5px;letter-spacing:-0.556px;color:#f2f2f2;left:1375.00px;font-weight:700;">$1.51</span>
</footer>
<aside>
<div class="b" style="left:502px;top:12px;width:432px;height:52px;background:#2e9c76;border-radius:4px;box-shadow:0 3px 10px rgba(0,0,0,.55);"></div>
<span class="t" style="top:32px;font-size:12.5px;letter-spacing:0.012px;color:#ffffff;left:554.00px;">$13.18 savings with Single Order applied</span>
<div class="b" style="left:814px;top:22px;width:80px;height:32px;background:transparent;border:1px solid #ffffff;border-radius:4px;"></div>
<span class="t" style="top:32px;font-size:12.5px;letter-spacing:-0.318px;color:#ffffff;left:835.60px;font-weight:700;">Revert</span>
<svg class="i" style="left:516px;top:28px;" width="20" height="20" viewBox="0 0 20 20" fill="none"><circle cx="9.9" cy="9.9" r="7.5" stroke="#ffffff" stroke-width="1.2"/><path d="M6.7 10.2 L9 12.4 L13.3 7.7" stroke="#ffffff" stroke-width="1.2" stroke-linecap="round" stroke-linejoin="round"/></svg>
<svg class="i" style="left:542px;top:32px;" width="11" height="11" viewBox="0 0 11 11" fill="none"><path d="M5.4 1.6 V9.4 M2 6.2 L5.4 9.6 L8.8 6.2" stroke="#ffffff" stroke-width="1.2" stroke-linecap="round" stroke-linejoin="round"/></svg>
<svg class="i" style="left:905px;top:33px;" width="10" height="10" viewBox="0 0 10 10" fill="none"><path d="M1.9 2.1 L8.3 8.5 M8.3 2.1 L1.9 8.5" stroke="#ffffff" stroke-width="1.4" stroke-linecap="round"/></svg>
<svg class="i" style="left:846px;top:42px;" width="22" height="26" viewBox="0 0 22 26" fill="none"><path d="M7.5 15.8 L7.5 2.9 A1.45 1.45 0 0 1 10.4 2.9 L10.4 7.6 A1.5 1.5 0 0 1 13.4 7.9 L13.6 8.5 A1.4 1.4 0 0 1 16.4 8.9 L16.7 9.6 A1.4 1.4 0 0 1 19.5 9.9 L19.5 17.5 C19.5 21.6 17 24.2 13 24.2 C9.6 24.2 8 22.6 6.5 20.6 L2.8 16.2 C1.7 14.8 3.3 13.3 4.6 14.3 L7.5 16.6 Z" fill="#ffffff" stroke="#15151c" stroke-width="0.9" stroke-linejoin="round"/><path d="M10.65 7.4 V11.8 M13.65 8.4 V11.8 M16.55 9.4 V12" stroke="#15151c" stroke-width="0.7" stroke-linecap="round"/></svg>
</aside>
</div></body></html>
